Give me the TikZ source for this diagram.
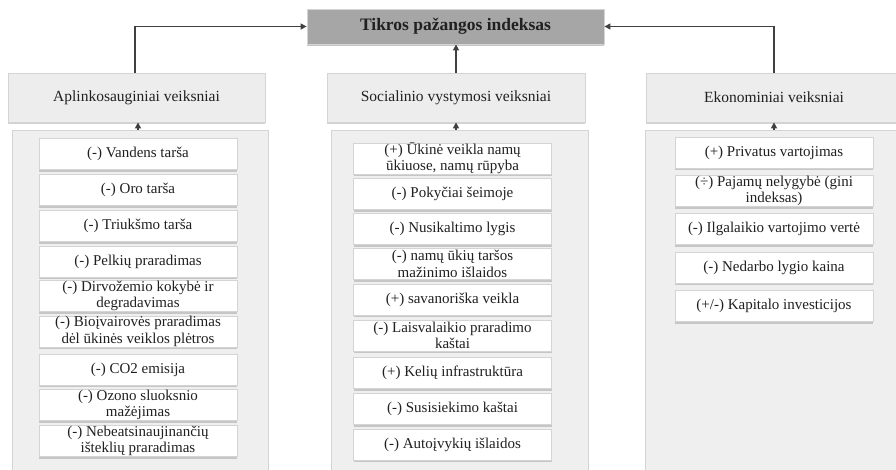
\documentclass[tikz,border=0pt]{standalone}
\usepackage{fontspec}
\setmainfont{Liberation Serif}
\usetikzlibrary{arrows.meta,shadows}
\definecolor{titlefill}{HTML}{A6A6A6}
\definecolor{headfill}{HTML}{EDEDED}
\definecolor{panelfill}{HTML}{EFEFEF}
\definecolor{edgegray}{HTML}{D4D4D4}
\definecolor{linkgray}{HTML}{404040}
\definecolor{inkgray}{HTML}{202020}
\tikzset{
  titlebox/.style={draw=edgegray, fill=titlefill, line width=0.8pt,
    minimum width=297pt, minimum height=35pt, inner sep=0pt,
    font=\fontsize{17.5}{20}\selectfont\bfseries, text=inkgray,
    drop shadow={shadow xshift=0pt, shadow yshift=-2pt, fill=gray!45, opacity=1}},
  headbox/.style={draw=edgegray, fill=headfill, line width=0.8pt,
    minimum height=49pt, inner sep=0pt,
    font=\fontsize{15.5}{18}\selectfont, text=inkgray,
    drop shadow={shadow xshift=0pt, shadow yshift=-2pt, fill=gray!35, opacity=1}},
  panel/.style={draw=edgegray, fill=panelfill, line width=0.8pt, inner sep=0pt},
  itembox/.style={draw=edgegray, fill=white, line width=0.6pt,
    minimum width=198pt, minimum height=31pt, inner sep=0pt, align=center,
    font=\fontsize{15}{16.5}\selectfont, text=inkgray,
    drop shadow={shadow xshift=0pt, shadow yshift=-2.2pt, fill=gray!45, opacity=1}},
  link/.style={draw=linkgray, line width=1.4pt,
    -{Triangle[length=6pt,width=6pt]}},
}
\begin{document}
\begin{tikzpicture}[x=1pt,y=-1pt]
\useasboundingbox (0,0) rectangle (896,469);

% column panels
\node[panel, minimum width=256pt, minimum height=345pt] (pl) at (140,302.5) {};
\node[panel, minimum width=257pt, minimum height=345pt] (pm) at (459.5,302.5) {};
\node[panel, minimum width=256pt, minimum height=345pt] (pr) at (773,302.5) {};

% top index
\node[titlebox] (t) at (455.5,26.5) {Tikros pažangos indeksas};

% column headers
\node[headbox, minimum width=257pt] (hl) at (136.5,97.5) {Aplinkosauginiai veiksniai};
\node[headbox, minimum width=258pt] (hm) at (456,97.5) {Socialinio vystymosi veiksniai};
\node[headbox, minimum width=256pt] (hr) at (774,97.5) {Ekonominiai veiksniai};

% environmental factors
\node[itembox] (l1) at (138,154) {(-) Vandens tarša};
\node[itembox] (l2) at (138,190) {(-) Oro tarša};
\node[itembox] (l3) at (138,226) {(-) Triukšmo tarša};
\node[itembox] (l4) at (138,261.5) {(-) Pelkių praradimas};
\node[itembox] (l5) at (138,296) {(-) Dirvožemio kokybė ir\\degradavimas};
\node[itembox] (l6) at (138,331.5) {(-) Bioįvairovės praradimas\\dėl ūkinės veiklos plėtros};
\node[itembox] (l7) at (138,369.5) {(-) CO2 emisija};
\node[itembox] (l8) at (138,405) {(-) Ozono sluoksnio\\mažėjimas};
\node[itembox] (l9) at (138,441) {(-) Nebeatsinaujinančių\\išteklių praradimas};

% social factors
\node[itembox] (m1) at (452.5,158.5) {(+) Ūkinė veikla namų\\ūkiuose, namų rūpyba};
\node[itembox] (m2) at (452.5,194) {(-) Pokyčiai šeimoje};
\node[itembox] (m3) at (452.5,229) {(-) Nusikaltimo lygis};
\node[itembox] (m4) at (452.5,264) {(-) namų ūkių taršos\\mažinimo išlaidos};
\node[itembox] (m5) at (452.5,299.5) {(+) savanoriška veikla};
\node[itembox] (m6) at (452.5,335.5) {(-) Laisvalaikio praradimo\\kaštai};
\node[itembox] (m7) at (452.5,373) {(+) Kelių infrastruktūra};
\node[itembox] (m8) at (452.5,409) {(-) Susisiekimo kaštai};
\node[itembox] (m9) at (452.5,444.5) {(-) Autoįvykių išlaidos};

% economic factors
\node[itembox] (r1) at (774,152.5) {(+) Privatus vartojimas};
\node[itembox] (r2) at (774,191) {(÷) Pajamų nelygybė (gini\\indeksas)};
\node[itembox] (r3) at (774,229) {(-) Ilgalaikio vartojimo vertė};
\node[itembox] (r4) at (774,267.5) {(-) Nedarbo lygio kaina};
\node[itembox] (r5) at (774,306) {(+/-) Kapitalo investicijos};

% connectors
\draw[link] (pl.north -| l1) -- (hl.south -| l1);
\draw[link] (pm.north -| hm) -- (hm.south);
\draw[link] (pr.north -| r1) -- (hr.south -| r1);
\draw[link] (hm.north) -- (t.south -| hm);
\draw[link] (hl.north -| 135,0) |- (t.west);
\draw[link] (hr.north -| r1) |- (t.east);
\end{tikzpicture}
\end{document}
